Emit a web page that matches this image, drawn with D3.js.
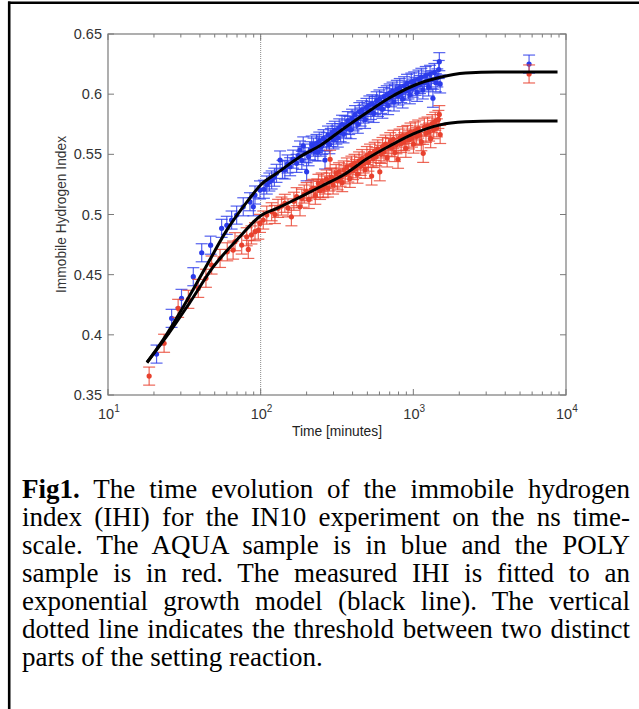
<!DOCTYPE html>
<html>
<head>
<meta charset="utf-8">
<script src="https://d3js.org/d3.v7.min.js"></script>
<style>
  body { margin: 0; background: #fff; }
  #wrap { position: relative; width: 639px; height: 709px; overflow: hidden; }
  #caption {
    position: absolute; left: 22px; top: 475px; width: 608px;
    font-family: "Liberation Serif", "Times New Roman", serif;
    font-size: 27px; line-height: 28px; color: #000;
  }
  #caption .ln { text-align: justify; text-align-last: justify; white-space: nowrap; }
  #caption .ln.last { text-align-last: left; }
</style>
</head>
<body>
<div id="wrap">
  <svg id="chart" width="639" height="709"></svg>
  <div id="caption"></div>
</div>
<script>
  // measured IHI, AQUA sample (blue)
  var blueT = [20.8, 26.1, 30.3, 36.2, 41.1, 47, 55.5, 60, 64.5, 69.6, 76.9, 85.1, 89.6, 91.8, 99,
    105, 109.6, 114, 118, 123, 127, 134, 139, 144, 150, 156, 163, 172, 176, 181, 186, 190, 195, 200,
    206, 211, 216, 222, 227, 232, 237, 242, 248, 253, 258, 264, 270, 276, 282, 288, 294, 300, 306,
    313, 320, 327, 334, 341, 349, 356, 364, 372, 380, 389, 397, 406, 415, 424, 433, 443, 452, 462,
    472, 483, 493, 504, 515, 527, 538, 550, 562, 575, 587, 600, 614, 627, 641, 655, 670, 684, 700,
    715, 731, 747, 763, 780, 797, 815, 833, 851, 870, 889, 909, 929, 949, 970, 991, 1013, 1035,
    1058, 1081, 1105, 1129, 1154, 1180, 1206, 1232, 1259, 1287, 1315, 1344, 1374, 1404, 1435,
    1467, 1480, 1499, 5730];
  var blueV = [0.384, 0.4137, 0.4303, 0.4483, 0.4682, 0.4745, 0.4885, 0.491, 0.4954, 0.4995, 0.5064,
    0.5106, 0.5064, 0.5162, 0.5204, 0.521, 0.5245, 0.527, 0.5287, 0.531, 0.5342, 0.5453, 0.5375,
    0.537, 0.542, 0.5397, 0.546, 0.5425, 0.549, 0.5536, 0.545, 0.557, 0.551, 0.5355, 0.548, 0.553,
    0.5577, 0.556, 0.5522, 0.559, 0.552, 0.561, 0.556, 0.5575, 0.563, 0.5453, 0.5605, 0.566, 0.558,
    0.564, 0.568, 0.562, 0.57, 0.566, 0.5635, 0.572, 0.568, 0.575, 0.567, 0.5745, 0.571, 0.578,
    0.574, 0.5705, 0.58, 0.577, 0.583, 0.5785, 0.575, 0.5855, 0.581, 0.587, 0.5835, 0.579, 0.589,
    0.585, 0.591, 0.5865, 0.592, 0.584, 0.5905, 0.5945, 0.589, 0.596, 0.5915, 0.5875, 0.598, 0.594,
    0.5995, 0.5905, 0.601, 0.597, 0.6025, 0.5935, 0.6, 0.604, 0.5985, 0.6055, 0.6005, 0.596, 0.607,
    0.6025, 0.609, 0.6035, 0.5995, 0.61, 0.605, 0.611, 0.6065, 0.6015, 0.6125, 0.608, 0.614, 0.6035,
    0.6095, 0.6155, 0.611, 0.606, 0.6165, 0.612, 0.5966, 0.618, 0.6095, 0.6135, 0.6205, 0.627,
    0.6085, 0.625];

  // measured IHI, POLY sample (red)
  var redT = [18.6, 23.3, 28.8, 33.6, 39, 43.8, 47.7, 54.2, 60.4, 66, 67.9, 75.1, 81, 83, 87, 91.8,
    96.5, 99, 104, 109.6, 118, 124, 130, 137, 144, 151, 159, 165, 172, 181, 186, 193, 200, 207, 214,
    221, 228, 235, 239, 245, 251, 257, 263, 270, 276, 282, 285, 291, 298, 305, 312, 319, 326, 334,
    342, 350, 358, 367, 375, 384, 393, 402, 412, 421, 431, 441, 452, 462, 473, 484, 496, 508, 520,
    533, 545, 558, 571, 585, 603, 614, 628, 643, 658, 674, 690, 706, 723, 740, 757, 775, 794, 813,
    832, 852, 872, 893, 914, 935, 958, 980, 1003, 1027, 1051, 1076, 1102, 1128, 1160, 1182, 1210,
    1239, 1268, 1298, 1329, 1360, 1392, 1425, 1459, 1480, 1499, 5730];
  var redV = [0.3657, 0.393, 0.422, 0.4295, 0.4386, 0.447, 0.458, 0.4635, 0.469, 0.4704, 0.4774,
    0.4746, 0.4815, 0.471, 0.483, 0.4857, 0.487, 0.4926, 0.4954, 0.4995, 0.5023, 0.5, 0.5051, 0.507,
    0.5093, 0.5055, 0.4981, 0.511, 0.5148, 0.5064, 0.5135, 0.517, 0.519, 0.5125, 0.5205, 0.5217,
    0.516, 0.522, 0.5259, 0.52, 0.527, 0.5215, 0.5245, 0.5295, 0.522, 0.527, 0.5459, 0.531, 0.5245,
    0.5295, 0.534, 0.528, 0.5355, 0.531, 0.5265, 0.537, 0.533, 0.5395, 0.5345, 0.53, 0.541, 0.5365,
    0.5425, 0.538, 0.5335, 0.5445, 0.54, 0.5465, 0.542, 0.5375, 0.549, 0.5435, 0.551, 0.532, 0.5465,
    0.5525, 0.548, 0.5545, 0.5355, 0.55, 0.5565, 0.552, 0.5585, 0.547, 0.556, 0.5605, 0.5555, 0.5625,
    0.5515, 0.558, 0.5459, 0.5635, 0.559, 0.5655, 0.5605, 0.555, 0.5665, 0.562, 0.5685, 0.5635,
    0.5585, 0.5695, 0.565, 0.571, 0.566, 0.5605, 0.5508, 0.5725, 0.5675, 0.5735, 0.5685, 0.563,
    0.5755, 0.5705, 0.5775, 0.572, 0.579, 0.583, 0.5665, 0.6168];

  var blueErr = 0.0075;
  var redErr = 0.0075;

  // exponential growth fits (black lines)
  var blueFitT = [18, 23, 31, 44, 60, 83, 100, 130, 181, 250, 350, 500, 700, 1000, 1500, 2200, 3500, 8800];
  var blueFitV = [0.377, 0.396, 0.423, 0.457, 0.487, 0.512, 0.5245, 0.535, 0.548, 0.558, 0.5715,
    0.585, 0.597, 0.607, 0.614, 0.6175, 0.6185, 0.6185];
  var redFitT = [18, 24, 34, 49, 73, 100, 130, 181, 250, 350, 500, 700, 1000, 1500, 2200, 3500, 8800];
  var redFitV = [0.377, 0.398, 0.426, 0.4566, 0.4815, 0.499, 0.5055, 0.5145, 0.5235, 0.533, 0.5465,
    0.557, 0.567, 0.5745, 0.577, 0.5778, 0.5778];

  var threshold = 100;
  var yTicks = [0.35, 0.4, 0.45, 0.5, 0.55, 0.6, 0.65];
  var yTickLabels = ["0.35", "0.4", "0.45", "0.5", "0.55", "0.6", "0.65"];
  var xMajor = [10, 100, 1000, 10000];
  var xExp = ["1", "2", "3", "4"];

  var captionLines = [
    ["Fig1.", " The time evolution of the immobile hydrogen"],
    ["", "index (IHI) for the IN10 experiment on the ns time-"],
    ["", "scale. The AQUA sample is in blue and the POLY"],
    ["", "sample is in red. The measured IHI is fitted to an"],
    ["", "exponential growth model (black line). The vertical"],
    ["", "dotted line indicates the threshold between two distinct"],
    ["", "parts of the setting reaction."]
  ];

  var blueCol = "#2b3bea", redCol = "#e8412e";

  var svg = d3.select("#chart");

  // page frame (left and top rules)
  svg.append("line").attr("x1", 9.2).attr("x2", 9.2).attr("y1", 1.5).attr("y2", 709)
    .attr("stroke", "#000").attr("stroke-width", 2.6);
  svg.append("line").attr("x1", 8).attr("x2", 639).attr("y1", 2.8).attr("y2", 2.8)
    .attr("stroke", "#000").attr("stroke-width", 2.6);

  var x = d3.scaleLog().domain([10, 10000]).range([108, 566]);
  var y = d3.scaleLinear().domain([0.35, 0.65]).range([395, 34]);

  var g = svg.append("g");

  // threshold
  g.append("line")
    .attr("x1", x(threshold)).attr("x2", x(threshold))
    .attr("y1", y(0.65)).attr("y2", y(0.35))
    .attr("stroke", "#8a8a8a").attr("stroke-width", 1).attr("stroke-dasharray", "1,1");

  function drawSeries(ts, vs, err, col) {
    var pts = ts.map(function(t, i) { return { t: t, v: vs[i] }; });
    var s = g.append("g");
    var bars = s.selectAll("g.eb").data(pts).enter().append("g").attr("class", "eb")
      .attr("stroke", col).attr("stroke-opacity", 0.8).attr("stroke-width", 1.2);
    bars.append("line")
      .attr("x1", function(d) { return x(d.t); }).attr("x2", function(d) { return x(d.t); })
      .attr("y1", function(d) { return y(d.v + err); }).attr("y2", function(d) { return y(d.v - err); });
    bars.append("line")
      .attr("x1", function(d) { return x(d.t) - 6; }).attr("x2", function(d) { return x(d.t) + 6; })
      .attr("y1", function(d) { return y(d.v + err); }).attr("y2", function(d) { return y(d.v + err); });
    bars.append("line")
      .attr("x1", function(d) { return x(d.t) - 6; }).attr("x2", function(d) { return x(d.t) + 6; })
      .attr("y1", function(d) { return y(d.v - err); }).attr("y2", function(d) { return y(d.v - err); });
    s.selectAll("circle").data(pts).enter().append("circle")
      .attr("cx", function(d) { return x(d.t); })
      .attr("cy", function(d) { return y(d.v); })
      .attr("r", 2.6)
      .attr("fill", col);
  }

  drawSeries(blueT, blueV, blueErr, blueCol);
  drawSeries(redT, redV, redErr, redCol);

  // fits
  var line = d3.line()
    .x(function(d) { return x(d[0]); })
    .y(function(d) { return y(d[1]); })
    .curve(d3.curveMonotoneX);

  [[blueFitT, blueFitV], [redFitT, redFitV]].forEach(function(f) {
    g.append("path")
      .datum(f[0].map(function(t, i) { return [t, f[1][i]]; }))
      .attr("fill", "none")
      .attr("stroke", "#000")
      .attr("stroke-width", 3)
      .attr("d", line);
  });

  // box
  var axisCol = "#7a7a7a";
  g.append("rect")
    .attr("x", 108).attr("y", 34).attr("width", 566 - 108).attr("height", 395 - 34)
    .attr("fill", "none").attr("stroke", axisCol).attr("stroke-width", 1.2);

  // x ticks (major + minor, bottom and top, pointing in)
  var xMinor = [];
  [10, 100, 1000].forEach(function(d) {
    for (var k = 2; k <= 9; k++) xMinor.push(d * k);
  });
  xMajor.concat(xMinor).forEach(function(t) {
    var len = xMajor.indexOf(t) >= 0 ? 6 : 3.5;
    g.append("line").attr("x1", x(t)).attr("x2", x(t)).attr("y1", 395).attr("y2", 395 - len)
      .attr("stroke", axisCol);
    g.append("line").attr("x1", x(t)).attr("x2", x(t)).attr("y1", 34).attr("y2", 34 + len)
      .attr("stroke", axisCol);
  });

  // y ticks
  yTicks.forEach(function(v) {
    g.append("line").attr("x1", 108).attr("x2", 114).attr("y1", y(v)).attr("y2", y(v)).attr("stroke", axisCol);
    g.append("line").attr("x1", 566).attr("x2", 560).attr("y1", y(v)).attr("y2", y(v)).attr("stroke", axisCol);
  });

  var lblFont = "Arial, 'Liberation Sans', Helvetica, sans-serif";

  g.selectAll("text.yl").data(yTicks).enter().append("text")
    .attr("class", "yl")
    .attr("x", 102)
    .attr("y", function(v) { return y(v) + 5; })
    .attr("text-anchor", "end")
    .attr("font-family", lblFont)
    .attr("font-size", 14.5)
    .attr("fill", "#333")
    .text(function(v, i) { return yTickLabels[i]; });

  var xl = g.selectAll("text.xl").data(xMajor).enter().append("text")
    .attr("class", "xl")
    .attr("x", function(t) { return x(t) - 10; })
    .attr("y", 419)
    .attr("font-family", lblFont)
    .attr("font-size", 14.5)
    .attr("fill", "#333");
  xl.append("tspan").text("10");
  xl.append("tspan").attr("dy", -7).attr("font-size", 10).text(function(t, i) { return xExp[i]; });

  g.append("text")
    .attr("x", 337).attr("y", 436)
    .attr("text-anchor", "middle")
    .attr("font-family", lblFont)
    .attr("font-size", 13.8)
    .attr("fill", "#222")
    .text("Time [minutes]");

  g.append("text")
    .attr("transform", "translate(66," + (34 + 395) / 2 + ") rotate(-90)")
    .attr("text-anchor", "middle")
    .attr("font-family", lblFont)
    .attr("font-size", 13.8)
    .attr("fill", "#333")
    .text("Immobile Hydrogen Index");

  // caption
  var cap = d3.select("#caption");
  captionLines.forEach(function(l, i) {
    var div = cap.append("div").attr("class", "ln" + (i === captionLines.length - 1 ? " last" : ""));
    if (l[0]) div.append("b").text(l[0]);
    div.append("span").text(l[1]);
  });
</script>
</body>
</html>
